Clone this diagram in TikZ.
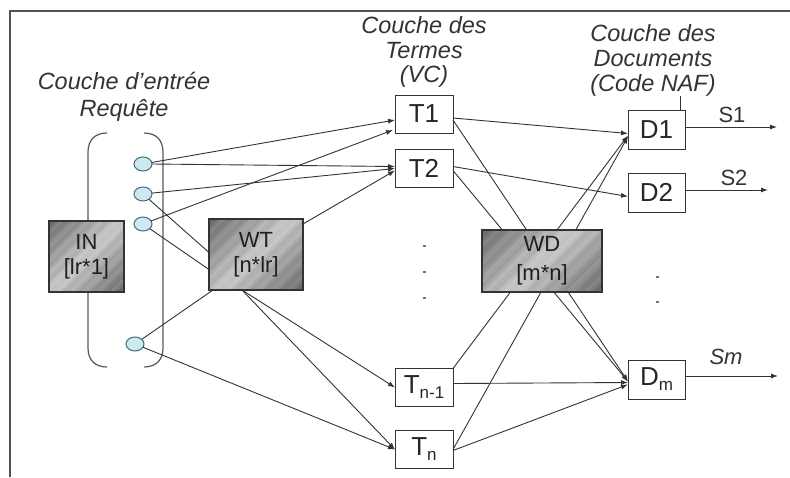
\documentclass[tikz,border=0pt]{standalone}
\usepackage{fontspec}
\setmainfont{Liberation Sans}
\usetikzlibrary{arrows.meta,calc,shapes.geometric}
\definecolor{ink}{HTML}{333333}
\definecolor{cfill}{HTML}{CFE8F0}
\definecolor{cline}{HTML}{3F6F7F}
\newcommand\diagfill[4]{%
  \begin{scope}
    \clip (#1,#2) rectangle (#3,#4);
    \pgfmathsetmacro\gW{#3-#1}
    \pgfmathsetmacro\gH{#4-#2}
    \foreach \gk in {0,...,39}{
      \pgfmathsetmacro\gA{#1-\gH+(\gW+\gH)*\gk/40}
      \pgfmathsetmacro\gB{#1-\gH+(\gW+\gH)*(\gk+1.2)/40}
      \pgfmathsetmacro\gP{int(22+36*abs(2*(\gk+0.5)/40-1)+3*sin(\gk*97))}
      \fill[black!\gP] (\gA,#4) -- (\gB,#4) -- (\gB+\gH,#2) -- (\gA+\gH,#2) -- cycle;
    }
  \end{scope}}
\newcommand\gline[1]{{\color[rgb]{0.12,0.12,0.12}#1}}
\begin{document}
\begin{tikzpicture}[x=1pt,y=-1pt,
  every node/.style={inner sep=0pt, outer sep=0pt},
  wbox/.style={draw=ink, line width=1pt, fill=white, minimum width=58pt, minimum height=38pt, font=\fontsize{26}{28}\selectfont, text=black!85},
  gbox/.style={draw=ink, line width=1.2pt},
  gtxt/.style={align=center, text=black, font=\fontsize{22}{25}\selectfont},
  neuron/.style={ellipse, draw=cline, fill=cfill, line width=1pt, minimum width=18pt, minimum height=14pt},
  lbl/.style={align=center, font=\fontsize{23.5}{24.5}\selectfont\itshape, text=black!80},
  slbl/.style={font=\fontsize{22}{24}\selectfont, text=black!80},
  conn/.style={draw=ink, line width=0.9pt},
  arr/.style={conn, -{Latex[length=7pt,width=5pt]}}
]
\useasboundingbox (0,0) rectangle (790,477);
% frame
\draw[ink!85, line width=1.2pt] (10,477) -- (10,11) -- (790,11);

% bracket
\draw[black!65, line width=1.2pt] (107,133) .. controls (95,133) and (88,140) .. (88,152) -- (88,348) .. controls (88,360) and (95,367) .. (107,367);
\draw[black!65, line width=1.2pt] (144,133) .. controls (156,133) and (163,140) .. (163,152) -- (163,348) .. controls (163,360) and (156,367) .. (144,367);

% labels
\node[lbl, font=\fontsize{23.5}{27.5}\selectfont\itshape] (lin) at (124,97) {Couche d'entrée\\Requête};
\node[lbl] (lvc) at (424,52) {Couche des\\Termes\\(VC)};
\node[lbl, font=\fontsize{23.5}{25}\selectfont\itshape] (ldoc) at (653,60) {Couche des\\Documents\\(Code NAF)};

% gray boxes
\diagfill{49}{221}{124}{292}
\node[gbox, minimum width=75pt, minimum height=71pt] (IN) at (86.5,256.5) {};
\node[gtxt] (INt) at (IN.center) {\gline{IN}\\\gline{[lr*1]}};
\diagfill{209}{219}{303}{290}
\node[gbox, minimum width=94pt, minimum height=71pt] (WT) at (256,254.5) {};
\node[gtxt] (WTt) at (WT.center) {\gline{WT}\\\gline{[n*lr]}};

% neurons
\node[neuron] (C1) at (143,164) {};
\node[neuron] (C2) at (143,194) {};
\node[neuron] (C3) at (143,224) {};
\node[neuron] (C4) at (135,344) {};

% term boxes
\node[wbox] (T1) at (424,114) {T1};
\node[wbox] (T2) at (424,168.5) {T2};
\node[wbox] (Tn1) at (424,387.5) {T\raisebox{-5pt}{\fontsize{17}{17}\selectfont n-1}};
\node[wbox] (Tn) at (424,449.5) {T\raisebox{-5pt}{\fontsize{17}{17}\selectfont n}};

% document boxes
\node[wbox, minimum width=57pt, minimum height=39pt] (D1) at (656.5,129.5) {D1};
\node[wbox, minimum width=57pt, minimum height=39pt] (D2) at (656.5,192.5) {D2};
\node[wbox, minimum width=57pt, minimum height=39pt] (Dm) at (656.5,379.5) {D\raisebox{-5pt}{\fontsize{17}{17}\selectfont m}};

% input -> terms / WT
\draw[arr] (C1) -- ($(T1.west)+(0,6)$);
\draw[arr] (C1.east) -- ($(T2.west)+(0,-2)$);
\draw[arr] (C2) -- (T2.west);
\draw[conn] (C2) -- ($(WT.west)+(0,-2)$);
\draw[arr] (C3) -- ($(T1.south west)+(-2,-3)$);
\draw[conn] (C3) -- ($(WT.west)+(0,15)$);
\draw[arr] ($(WT.north east)+(0,5)$) -- ($(T2.west)+(0,2)$);
\draw[conn] (C4) -- ($(WT.south west)+(4,0)$);
\draw[arr] (C4) -- (Tn.west);
\draw[arr] ($(WT.south)+(-14,0)$) -- (Tn1.west);
\draw[arr] ($(WT.south)+(-14,0)$) -- (Tn.west);

% terms -> documents
\draw[arr] ($(T1.east)+(0,4)$) -- ($(D1.west)+(0,4)$);
\draw[arr] ($(T1.east)+(0,6)$) -- ($(Dm.west)+(0,2)$);
\draw[arr] ($(T2.east)+(0,-2)$) -- ($(D2.west)+(0,4)$);
\draw[arr] ($(T2.east)+(0,2)$) -- ($(Dm.west)+(0,2)$);
\draw[arr] (Tn1.north east) -- ($(D1.west)+(0,6)$);
\draw[arr] ($(Tn1.east)+(0,-4)$) -- ($(Dm.west)+(0,3)$);
\draw[arr] (Tn.east) -- ($(D1.west)+(0,7)$);
\draw[arr] ($(Tn.east)+(0,1)$) -- ($(Dm.west)+(0,5)$);

% WD box on top of the crossing lines
\diagfill{482}{230}{602}{292}
\node[gbox, minimum width=120pt, minimum height=62pt] (WD) at (542,261) {};
\node[gtxt, font=\fontsize{22}{29}\selectfont] (WDt) at (WD.center) {\gline{WD}\\\gline{[m*n]}};

% outputs
\coordinate (s1e) at (777,127);
\coordinate (s2e) at (768,190);
\coordinate (sme) at (778,376);
\draw[arr] (D1.east |- s1e) -- (s1e);
\draw[arr] (D2.east |- s2e) -- (s2e);
\draw[arr] (Dm.east |- sme) -- (sme);
\node[slbl] (s1) at (732,115) {S1};
\node[slbl] (s2) at (734,178) {S2};
\node[slbl] (sm) at (726,357) {\itshape Sm};

% tick from label to D1
\draw[conn] ($(D1.north east)+(-5,0)$) -- ++(0,-14);

% continuation dots
\fill[black!55] (423,245) rectangle ++(3,2);
\fill[black!55] (423,271) rectangle ++(3,2);
\fill[black!55] (423,297) rectangle ++(3,2);
\fill[black!55] (656,276) rectangle ++(3,2);
\fill[black!55] (656,301) rectangle ++(3,2);
\end{tikzpicture}
\end{document}
